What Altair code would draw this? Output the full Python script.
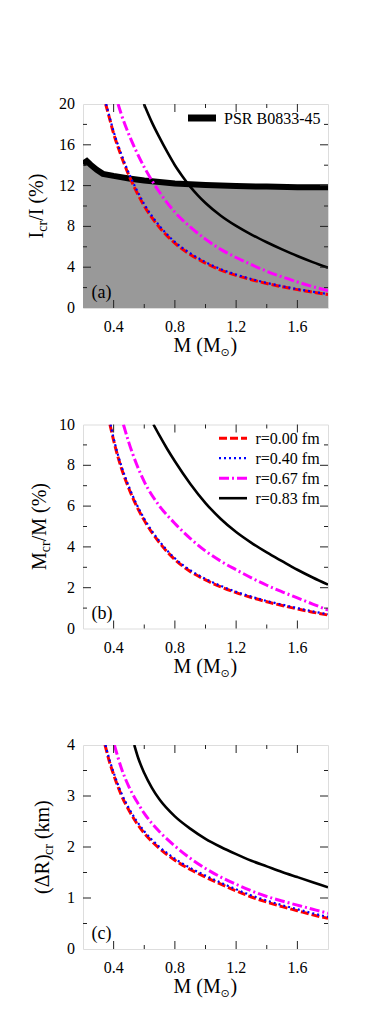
import altair as alt
import pandas as pd

FONT = "Liberation Serif"
W, H = 245, 204
TICK = "#222222"

# ---------------- data ----------------
# x ticks (M in solar masses)
x_labels = [0.4, 0.8, 1.2, 1.6]
x_minor = [0.6, 1.0, 1.4]

# Panel (a): I_cr / I (%)
a_ylabels = [0, 4, 8, 12, 16, 20]
a_ymajor = [4, 8, 12, 16]
a_yminor = [2, 6, 10, 14, 18]
a_red_M = [0.348, 0.375, 0.40, 0.45, 0.50, 0.55, 0.60, 0.65, 0.70, 0.80, 0.90, 1.00, 1.10, 1.20, 1.30, 1.40, 1.50, 1.60, 1.70, 1.80]
a_red_v = [20.0, 18.5, 17.1, 14.9, 13.0, 11.4, 10.0, 8.85, 7.9, 6.35, 5.25, 4.4, 3.72, 3.2, 2.77, 2.4, 2.08, 1.8, 1.55, 1.32]
a_blue_M = [0.351, 0.375, 0.40, 0.45, 0.50, 0.55, 0.60, 0.65, 0.70, 0.80, 0.90, 1.00, 1.10, 1.20, 1.30, 1.40, 1.50, 1.60, 1.70, 1.80]
a_blue_v = [20.0, 18.65, 17.3, 15.1, 13.2, 11.6, 10.18, 9.02, 8.05, 6.48, 5.37, 4.5, 3.81, 3.28, 2.84, 2.46, 2.14, 1.85, 1.6, 1.37]
a_mag_M = [0.429, 0.45, 0.50, 0.55, 0.60, 0.65, 0.70, 0.80, 0.90, 1.00, 1.10, 1.20, 1.30, 1.40, 1.50, 1.60, 1.70, 1.80]
a_mag_v = [20.0, 19.0, 17.0, 15.3, 13.8, 12.5, 11.35, 9.4, 7.95, 6.75, 5.75, 4.95, 4.25, 3.6, 3.05, 2.55, 2.1, 1.7]
a_blk_M = [0.598, 0.65, 0.70, 0.75, 0.80, 0.85, 0.90, 0.95, 1.00, 1.10, 1.20, 1.30, 1.40, 1.50, 1.60, 1.70, 1.80]
a_blk_v = [20.0, 18.2, 16.7, 15.3, 14.0, 12.9, 11.9, 11.05, 10.3, 9.05, 8.05, 7.2, 6.45, 5.75, 5.1, 4.5, 3.95]
psr_M = [0.2, 0.225, 0.25, 0.29, 0.33, 0.40, 0.50, 0.60, 0.70, 0.80, 1.00, 1.20, 1.40, 1.60, 1.80]
psr_v = [14.15, 14.4, 14.05, 13.55, 13.15, 12.95, 12.7, 12.5, 12.35, 12.2, 12.05, 11.95, 11.9, 11.85, 11.85]

# Panel (b): M_cr / M (%)
b_ylabels = [0, 2, 4, 6, 8, 10]
b_ymajor = [2, 4, 6, 8]
b_yminor = [1, 3, 5, 7, 9]
b_red_M = [0.376, 0.40, 0.425, 0.45, 0.50, 0.55, 0.60, 0.70, 0.80, 0.90, 1.00, 1.10, 1.20, 1.30, 1.40, 1.50, 1.60, 1.70, 1.80]
b_red_v = [10.0, 9.22, 8.5, 7.88, 6.85, 6.0, 5.3, 4.2, 3.38, 2.8, 2.38, 2.04, 1.76, 1.52, 1.31, 1.13, 0.96, 0.8, 0.66]
b_blue_M = [0.38, 0.40, 0.425, 0.45, 0.50, 0.55, 0.60, 0.70, 0.80, 0.90, 1.00, 1.10, 1.20, 1.30, 1.40, 1.50, 1.60, 1.70, 1.80]
b_blue_v = [10.0, 9.32, 8.6, 7.98, 6.95, 6.09, 5.38, 4.27, 3.44, 2.86, 2.43, 2.09, 1.8, 1.56, 1.35, 1.17, 1.0, 0.84, 0.7]
b_mag_M = [0.464, 0.50, 0.55, 0.60, 0.70, 0.80, 0.90, 1.00, 1.10, 1.20, 1.30, 1.40, 1.50, 1.60, 1.70, 1.80]
b_mag_v = [10.0, 9.1, 8.05, 7.2, 6.0, 5.15, 4.42, 3.8, 3.3, 2.88, 2.48, 2.12, 1.8, 1.5, 1.2, 0.9]
b_blk_M = [0.66, 0.70, 0.75, 0.80, 0.90, 1.00, 1.10, 1.20, 1.30, 1.40, 1.50, 1.60, 1.70, 1.80]
b_blk_v = [10.0, 9.45, 8.8, 8.2, 7.1, 6.15, 5.37, 4.73, 4.2, 3.73, 3.3, 2.88, 2.5, 2.15]

# Panel (c): (Delta R)_cr (km)
c_ylabels = [0, 1, 2, 3, 4]
c_ymajor = [1, 2, 3]
c_yminor = [0.5, 1.5, 2.5, 3.5]
c_red_M = [0.344, 0.37, 0.40, 0.45, 0.50, 0.55, 0.60, 0.70, 0.80, 0.90, 1.00, 1.10, 1.20, 1.30, 1.40, 1.50, 1.60, 1.70, 1.80]
c_red_v = [4.0, 3.7, 3.42, 3.02, 2.72, 2.47, 2.27, 1.97, 1.74, 1.56, 1.41, 1.27, 1.14, 1.02, 0.92, 0.83, 0.75, 0.67, 0.6]
c_blue_M = [0.347, 0.37, 0.40, 0.45, 0.50, 0.55, 0.60, 0.70, 0.80, 0.90, 1.00, 1.10, 1.20, 1.30, 1.40, 1.50, 1.60, 1.70, 1.80]
c_blue_v = [4.0, 3.74, 3.46, 3.06, 2.76, 2.51, 2.31, 2.0, 1.77, 1.59, 1.44, 1.3, 1.17, 1.05, 0.95, 0.86, 0.78, 0.7, 0.63]
c_mag_M = [0.405, 0.45, 0.50, 0.55, 0.60, 0.70, 0.80, 0.90, 1.00, 1.10, 1.20, 1.30, 1.40, 1.50, 1.60, 1.70, 1.80]
c_mag_v = [4.0, 3.55, 3.18, 2.9, 2.66, 2.3, 2.02, 1.78, 1.58, 1.41, 1.27, 1.14, 1.03, 0.94, 0.86, 0.78, 0.7]
c_blk_M = [0.535, 0.56, 0.60, 0.65, 0.70, 0.80, 0.90, 1.00, 1.10, 1.20, 1.30, 1.40, 1.50, 1.60, 1.70, 1.80]
c_blk_v = [4.0, 3.75, 3.45, 3.16, 2.93, 2.6, 2.36, 2.16, 2.0, 1.86, 1.73, 1.62, 1.51, 1.41, 1.31, 1.21]

legend_labels = ["r=0.00 fm", "r=0.40 fm", "r=0.67 fm", "r=0.83 fm"]
psr_label = "PSR B0833-45"

STYLES = {
    "red": dict(color="#ff0000", strokeDash=[8, 3], strokeWidth=3),
    "blue": dict(color="#0000ff", strokeDash=[2, 3], strokeWidth=2.2),
    "magenta": dict(color="#ff00ff", strokeDash=[10, 3, 2, 3], strokeWidth=3),
    "black": dict(color="#000000", strokeWidth=2.6),
}

XS = alt.Scale(domain=[0.2, 1.8], nice=False, zero=False)


def xenc():
    return alt.X("M:Q", scale=XS, axis=None)


def yenc(dom):
    return alt.Y("v:Q", scale=alt.Scale(domain=dom, nice=False, zero=False), axis=None)


def curve(M, v, style, dom):
    df = pd.DataFrame({"M": M, "v": v})
    return alt.Chart(df).mark_line(clip=True, interpolate="monotone", **STYLES[style]).encode(
        x=xenc(), y=yenc(dom)
    )


def txt(s, x, y, size, angle=0, align="left", baseline="alphabetic", font=FONT):
    return alt.Chart(pd.DataFrame({"t": [s]})).mark_text(
        align=align, baseline=baseline, fontSize=size, font=font, angle=angle, color="black"
    ).encode(x=alt.value(x), y=alt.value(y), text="t:N")


def tick_layers(dom, ymaj, ymin):
    out = []
    for vals, L in ((ymaj, 8), (ymin, 4)):
        df = pd.DataFrame({"v": vals})
        out.append(alt.Chart(df).mark_rule(color=TICK, strokeWidth=1).encode(
            y=yenc(dom), x=alt.value(0), x2=alt.value(L)))
        out.append(alt.Chart(df).mark_rule(color=TICK, strokeWidth=1).encode(
            y=yenc(dom), x=alt.value(W), x2=alt.value(W - L)))
    for vals, L in ((x_labels, 8), (x_minor, 4)):
        df = pd.DataFrame({"M": vals})
        out.append(alt.Chart(df).mark_rule(color=TICK, strokeWidth=1).encode(
            x=xenc(), y=alt.value(H), y2=alt.value(H - L)))
        out.append(alt.Chart(df).mark_rule(color=TICK, strokeWidth=1).encode(
            x=xenc(), y=alt.value(0), y2=alt.value(L)))
    return out


def tick_labels(dom, ylabels):
    xl = alt.Chart(pd.DataFrame({"M": x_labels})).mark_text(
        font=FONT, fontSize=16, baseline="top", align="center", color="black"
    ).encode(x=xenc(), y=alt.value(H + 11), text=alt.Text("M:Q", format=".1f"))
    yl = alt.Chart(pd.DataFrame({"v": ylabels})).mark_text(
        font=FONT, fontSize=16, baseline="middle", align="right", color="black"
    ).encode(y=yenc(dom), x=alt.value(-8), text=alt.Text("v:Q", format="~g"))
    return [xl, yl]


def xtitle():
    y0 = H + 44
    return [
        txt("M (M", 90.5, y0, 20),
        txt("\u2299", 137.5, y0 + 4, 11, font="DejaVu Sans"),
        txt(")", 147.5, y0, 20),
    ]


def ytitle(parts, xb):
    out = []
    for s, size, y, sub in parts:
        out.append(txt(s, xb + (4 if sub else 0), y, size, angle=270))
    return out


# ---------------- panel (a) ----------------
dom_a = [0, 20]
psr_df = pd.DataFrame({"M": psr_M, "v": psr_v})
area_a = alt.Chart(psr_df).mark_area(color="#999999", clip=True).encode(x=xenc(), y=yenc(dom_a))
psr_line = alt.Chart(psr_df).mark_line(color="black", strokeWidth=6, clip=True).encode(
    x=xenc(), y=yenc(dom_a))
layers_a = [area_a, psr_line,
            curve(a_red_M, a_red_v, "red", dom_a),
            curve(a_blue_M, a_blue_v, "blue", dom_a),
            curve(a_mag_M, a_mag_v, "magenta", dom_a),
            curve(a_blk_M, a_blk_v, "black", dom_a)]
layers_a += tick_layers(dom_a, a_ymajor, a_yminor)
layers_a += tick_labels(dom_a, a_ylabels)
leg_psr = pd.DataFrame({"t": [psr_label]})
layers_a.append(alt.Chart(leg_psr).mark_rule(color="black", strokeWidth=7).encode(
    x=alt.value(105), x2=alt.value(133), y=alt.value(14)))
layers_a.append(txt(psr_label, 141, 19.5, 16))
layers_a.append(txt("(a)", 8.5, 194, 18))
layers_a += xtitle()
layers_a += ytitle([("I", 20, 134.4, False), ("cr", 14, 127.7, True), ("/I (%)", 20, 116.8, False)], -40.4)
panel_a = alt.layer(*layers_a).properties(width=W, height=H)

# ---------------- panel (b) ----------------
dom_b = [0, 10]
layers_b = [curve(b_red_M, b_red_v, "red", dom_b),
            curve(b_blue_M, b_blue_v, "blue", dom_b),
            curve(b_mag_M, b_mag_v, "magenta", dom_b),
            curve(b_blk_M, b_blk_v, "black", dom_b)]
layers_b += tick_layers(dom_b, b_ymajor, b_yminor)
layers_b += tick_labels(dom_b, b_ylabels)
for i, (lab, st) in enumerate(zip(legend_labels, ["red", "blue", "magenta", "black"])):
    yy = 13.7 + 20 * i
    sty = dict(STYLES[st])
    layers_b.append(alt.Chart(pd.DataFrame({"t": [lab]})).mark_rule(**sty).encode(
        x=alt.value(136), x2=alt.value(164), y=alt.value(yy)))
    layers_b.append(txt(lab, 172.5, yy + 5.5, 16))
layers_b.append(txt("(b)", 8.5, 194, 18))
layers_b += xtitle()
layers_b += ytitle([("M", 20, 145.5, False), ("cr", 14, 127.7, True), ("/M (%)", 20, 116.8, False)], -37)
panel_b = alt.layer(*layers_b).properties(width=W, height=H)

# ---------------- panel (c) ----------------
dom_c = [0, 4]
layers_c = [curve(c_red_M, c_red_v, "red", dom_c),
            curve(c_blue_M, c_blue_v, "blue", dom_c),
            curve(c_mag_M, c_mag_v, "magenta", dom_c),
            curve(c_blk_M, c_blk_v, "black", dom_c)]
layers_c += tick_layers(dom_c, c_ymajor, c_yminor)
layers_c += tick_labels(dom_c, c_ylabels)
layers_c.append(txt("(c)", 8.5, 194, 18))
layers_c += xtitle()
layers_c += ytitle([("(\u0394R)", 20, 148.9, False), ("cr", 14, 110.0, True), ("(km)", 20, 94.1, False)], -33.7)
panel_c = alt.layer(*layers_c).properties(width=W, height=H)

chart = alt.vconcat(panel_a, panel_b, panel_c, spacing=116.5, bounds="flush").properties(
    padding={"left": 18, "top": 87, "right": 5, "bottom": 5}
).configure_view(stroke="#222222", strokeWidth=1.2).configure(background="white")

chart.save("out.html", embed_options={"renderer": "svg", "actions": False})
